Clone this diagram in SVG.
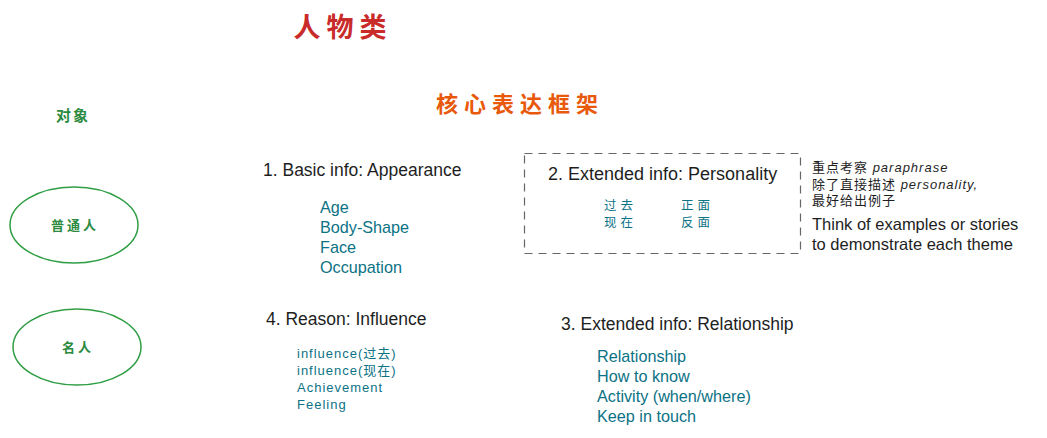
<svg xmlns="http://www.w3.org/2000/svg" width="1047" height="438" viewBox="0 0 1047 438">
<style>
text{font-family:"Liberation Sans","Noto Sans CJK SC",sans-serif}
.h{fill:#1e1e1e;font-size:17.5px}
.t{fill:#0c7285;font-size:16.2px}
.ts{fill:#0c7285;font-size:13px;letter-spacing:1px}
.cj{fill:#0c7285;font-size:12.5px;letter-spacing:4px}
.g{fill:#2b8a3e;font-weight:bold}
.n{fill:#1e1e1e}
.ell{fill:none;stroke:#2f9e44;stroke-width:1.5}
</style>
<rect width="1047" height="438" fill="#ffffff"/>
<g id="title"><text x="343" y="37" text-anchor="middle" font-size="27" font-weight="bold" fill="#c92a2a" letter-spacing="6">人物类</text></g>
<g id="framework-title"><text x="520" y="112" text-anchor="middle" font-size="22" font-weight="bold" fill="#e8590c" letter-spacing="6">核心表达框架</text></g>
<g id="object-label"><text class="g" x="73" y="121" text-anchor="middle" font-size="15" letter-spacing="2">对象</text></g>
<g id="node-ordinary">
<ellipse class="ell" cx="74" cy="225" rx="64" ry="38"/>
<text class="g" x="75" y="230" text-anchor="middle" font-size="13" letter-spacing="3">普通人</text>
</g>
<g id="node-famous">
<ellipse class="ell" cx="77" cy="347" rx="64" ry="38"/>
<text class="g" x="78" y="352" text-anchor="middle" font-size="13" letter-spacing="3">名人</text>
</g>
<g id="basic-info">
<text class="h" x="263" y="176" font-size="17">1. Basic info: Appearance</text>
<text class="t" x="320" y="213">Age</text>
<text class="t" x="320" y="233">Body-Shape</text>
<text class="t" x="320" y="253">Face</text>
<text class="t" x="320" y="273">Occupation</text>
</g>
<g id="personality">
<rect x="524.5" y="153.5" width="276" height="100" fill="none" stroke="#666" stroke-width="1.2" stroke-dasharray="8 6"/>
<text class="h" x="548" y="180" style="font-size:18px">2. Extended info: Personality</text>
<text class="cj" x="604" y="210">过去</text>
<text class="cj" x="604" y="227">现在</text>
<text class="cj" x="681" y="210">正面</text>
<text class="cj" x="681" y="227">反面</text>
</g>
<g id="note">
<text class="n" x="812" y="172" font-size="13" letter-spacing="1">重点考察 <tspan font-style="italic">paraphrase</tspan></text>
<text class="n" x="812" y="189" font-size="13" letter-spacing="1">除了直接描述 <tspan font-style="italic">personality,</tspan></text>
<text class="n" x="812" y="205" font-size="13" letter-spacing="1">最好给出例子</text>
<text class="n" x="812" y="230" font-size="16.5">Think of examples or stories</text>
<text class="n" x="812" y="250" font-size="16.5">to demonstrate each theme</text>
</g>
<g id="reason">
<text class="h" x="266" y="325">4. Reason: Influence</text>
<text class="ts" x="297" y="358">influence(过去)</text>
<text class="ts" x="297" y="375">influence(现在)</text>
<text class="ts" x="297" y="392">Achievement</text>
<text class="ts" x="297" y="409">Feeling</text>
</g>
<g id="relationship">
<text class="h" x="561" y="330">3. Extended info: Relationship</text>
<text class="t" x="597" y="362">Relationship</text>
<text class="t" x="597" y="382">How to know</text>
<text class="t" x="597" y="402">Activity (when/where)</text>
<text class="t" x="597" y="422">Keep in touch</text>
</g>
<g id="connectors"></g>
</svg>
